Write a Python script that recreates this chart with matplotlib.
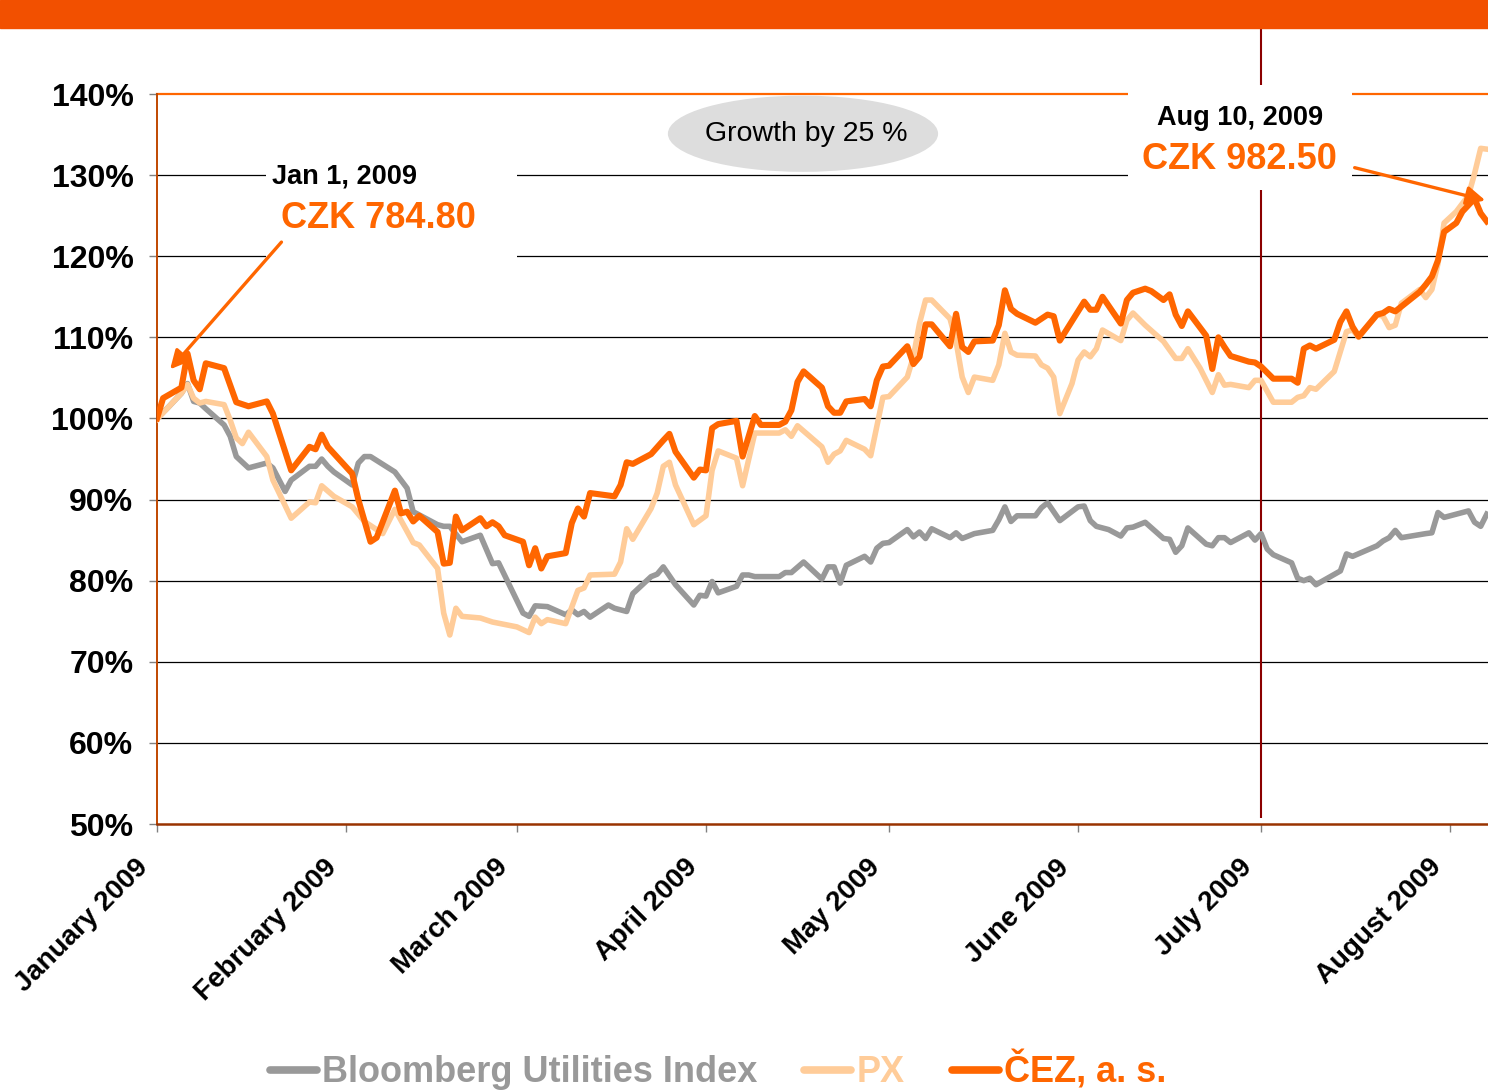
import matplotlib.pyplot as plt
import matplotlib.transforms as mtransforms
from matplotlib.patches import Ellipse, Rectangle
from matplotlib.lines import Line2D

plt.rcParams['font.family'] = ['Liberation Sans', 'DejaVu Sans']

# days counted from Jan 1, 2009; values in % of the Jan 1 level
bloomberg_days = [0, 2, 4, 5, 6, 7, 8, 11, 12, 13, 15, 18, 19, 21, 22, 25, 26, 27, 28, 29,
                  32, 33, 34, 35, 39, 41, 42, 46, 47, 48, 50, 53, 55, 56, 60, 61, 62, 64, 67, 68,
                  69, 70, 71, 74, 75, 77, 78, 81, 82, 83, 85, 88, 89, 90, 91, 92, 95, 96, 97, 98,
                  102, 103, 104, 106, 109, 110, 111, 112, 113, 116, 117, 118, 119, 120, 123, 124,
                  125, 126, 127, 130, 131, 132, 134, 137, 138, 139, 140, 141, 144, 145, 146, 148,
                  151, 152, 153, 154, 156, 158, 159, 160, 162, 165, 166, 167, 168, 169, 172, 173,
                  174, 175, 176, 179, 180, 181, 182, 183, 186, 187, 188, 189, 190, 194, 195, 196,
                  200, 201, 202, 203, 204, 208, 209, 210, 211, 215, 216, 217, 218]
bloomberg_vals = [100.0, 101.5, 103.1, 104.3, 102.1, 101.9, 101.2, 99.2, 97.8, 95.3, 93.9, 94.5,
                  93.9, 91.0, 92.4, 94.1, 94.1, 95.0, 94.1, 93.4, 91.8, 94.5, 95.3, 95.3, 93.4,
                  91.4, 88.5, 86.9, 86.7, 86.7, 84.8, 85.6, 82.1, 82.2, 76.0, 75.6, 76.9, 76.8,
                  75.8, 76.4, 75.8, 76.2, 75.5, 77.0, 76.6, 76.2, 78.4, 80.5, 80.8, 81.7, 79.5,
                  77.0, 78.2, 78.1, 79.9, 78.5, 79.3, 80.7, 80.7, 80.5, 80.5, 81.0, 81.0, 82.3,
                  80.2, 81.7, 81.7, 79.7, 81.9, 83.0, 82.3, 84.0, 84.6, 84.7, 86.3, 85.4, 86.0,
                  85.2, 86.4, 85.3, 85.9, 85.2, 85.8, 86.2, 87.5, 89.1, 87.3, 88.0, 88.0, 89.0,
                  89.6, 87.4, 89.1, 89.2, 87.4, 86.7, 86.3, 85.5, 86.5, 86.6, 87.2, 85.2, 85.1,
                  83.5, 84.3, 86.5, 84.5, 84.3, 85.3, 85.3, 84.7, 85.9, 85.0, 85.8, 83.9, 83.2,
                  82.2, 80.3, 80.0, 80.3, 79.5, 81.2, 83.3, 83.0, 84.3, 84.9, 85.3, 86.2, 85.3,
                  85.8, 85.9, 88.4, 87.8, 88.6, 87.2, 86.7, 88.2]

px_days = [0, 2, 4, 5, 6, 7, 8, 11, 12, 13, 14, 15, 18, 19, 22, 25, 26, 27, 29, 32, 34, 37, 39,
           42, 43, 46, 47, 48, 49, 50, 53, 55, 59, 61, 62, 63, 64, 67, 69, 70, 71, 75, 76, 77,
           78, 81, 82, 83, 84, 85, 88, 90, 91, 92, 95, 96, 98, 102, 103, 104, 105, 109, 110,
           111, 112, 113, 116, 117, 118, 119, 120, 123, 124, 125, 126, 127, 130, 131, 132, 133,
           134, 137, 138, 139, 140, 141, 144, 145, 146, 147, 148, 150, 151, 152, 153, 154, 155,
           158, 159, 160, 162, 165, 167, 168, 169, 171, 173, 174, 175, 176, 179, 180, 181, 183,
           186, 187, 188, 189, 190, 193, 195, 196, 197, 200, 201, 202, 203, 204, 207, 208, 209,
           210, 211, 213, 215, 216, 217, 218]
px_vals = [99.9, 101.5, 103.1, 104.2, 102.5, 101.9, 102.1, 101.7, 99.8, 97.6, 96.9, 98.3, 95.3,
           92.4, 87.7, 89.7, 89.6, 91.7, 90.4, 89.1, 87.3, 85.8, 88.8, 84.7, 84.4, 81.5, 76.0,
           73.3, 76.6, 75.6, 75.4, 74.9, 74.3, 73.6, 75.5, 74.7, 75.2, 74.7, 78.8, 79.1, 80.7,
           80.8, 82.3, 86.4, 85.1, 88.9, 90.8, 94.1, 94.6, 91.8, 86.9, 88.0, 93.6, 96.0, 95.1,
           91.7, 98.2, 98.2, 98.6, 97.8, 99.1, 96.5, 94.6, 95.6, 96.0, 97.3, 96.2, 95.4, 99.0,
           102.6, 102.7, 105.1, 107.6, 111.7, 114.6, 114.6, 112.3, 109.5, 105.1, 103.2, 105.1,
           104.7, 106.6, 110.5, 108.2, 107.8, 107.7, 106.6, 106.2, 105.1, 100.6, 104.3, 107.2,
           108.2, 107.6, 108.6, 110.9, 109.6, 112.1, 113.0, 111.5, 109.5, 107.4, 107.4, 108.6,
           106.2, 103.2, 105.4, 104.1, 104.2, 103.8, 104.7, 104.7, 102.0, 102.0, 102.6, 102.8,
           103.8, 103.6, 105.8, 110.7, 110.9, 110.0, 112.8, 112.6, 111.2, 111.5, 114.2, 115.9,
           114.9, 115.9, 119.1, 124.1, 125.5, 127.5, 130.2, 133.3, 133.2]

cez_days = [0, 1, 4, 5, 6, 7, 8, 11, 13, 15, 18, 19, 22, 25, 26, 27, 28, 32, 33, 35, 36, 39, 40,
            41, 42, 43, 46, 47, 48, 49, 50, 53, 54, 55, 56, 57, 60, 61, 62, 63, 64, 67, 68, 69,
            70, 71, 75, 76, 77, 78, 81, 83, 84, 85, 88, 89, 90, 91, 92, 95, 96, 98, 99, 102,
            103, 104, 105, 106, 109, 110, 111, 112, 113, 116, 117, 118, 119, 120, 123, 124, 125,
            126, 127, 130, 131, 132, 133, 134, 137, 138, 139, 140, 141, 144, 146, 147, 148, 152,
            153, 154, 155, 158, 159, 160, 162, 163, 165, 166, 167, 168, 169, 172, 173, 174, 175,
            176, 179, 180, 181, 183, 186, 187, 188, 189, 190, 193, 194, 195, 196, 197, 200, 201,
            202, 203, 207, 208, 209, 210, 211, 213, 214, 216, 217, 218]
cez_vals = [100.0, 102.5, 103.8, 108.0, 104.7, 103.6, 106.8, 106.2, 102.0, 101.5, 102.1, 100.6,
            93.6, 96.5, 96.2, 98.0, 96.5, 93.2, 90.0, 84.8, 85.3, 91.1, 88.3, 88.5, 87.3, 88.0,
            86.0, 82.1, 82.2, 87.9, 86.2, 87.7, 86.7, 87.2, 86.7, 85.6, 84.8, 81.9, 84.0, 81.5,
            83.0, 83.4, 87.1, 88.9, 87.9, 90.8, 90.4, 91.8, 94.6, 94.4, 95.6, 97.3, 98.1, 95.9,
            92.7, 93.7, 93.6, 98.8, 99.3, 99.7, 95.3, 100.3, 99.2, 99.2, 99.6, 101.0, 104.5,
            105.8, 103.8, 101.5, 100.7, 100.7, 102.1, 102.4, 101.5, 104.7, 106.4, 106.5, 108.9,
            106.7, 107.6, 111.6, 111.6, 108.9, 112.9, 108.8, 108.2, 109.5, 109.6, 111.5, 115.8,
            113.5, 112.9, 111.8, 112.8, 112.6, 109.6, 114.4, 113.4, 113.4, 115.0, 111.7, 114.6,
            115.5, 116.0, 115.7, 114.6, 115.3, 112.8, 111.4, 113.2, 110.2, 106.1, 110.0, 108.8,
            107.7, 107.0, 106.9, 106.4, 104.9, 104.9, 104.4, 108.6, 109.0, 108.6, 109.7, 111.9,
            113.2, 111.3, 110.1, 112.8, 113.0, 113.5, 113.2, 115.6, 116.5, 117.5, 119.5, 123.0,
            124.1, 125.5, 127.1, 125.3, 124.3]

month_days = [0, 31, 59, 90, 120, 151, 181, 212]
month_labels = ['January 2009', 'February 2009', 'March 2009', 'April 2009',
                'May 2009', 'June 2009', 'July 2009', 'August 2009']

orange = '#FF6600'
peach = '#FFCC99'
grey = '#999999'

fig = plt.figure(figsize=(14.88, 10.92), dpi=100)
# orange band at the top of the slide
fig.patches.append(Rectangle((0, 1 - 28 / 1092), 1, 28 / 1092, transform=fig.transFigure,
                             color='#F25000', zorder=0))

ax = fig.add_axes([157 / 1488, 268 / 1092, 1 - 157 / 1488, 730 / 1092])
ax.set_xlim(0, 218.2)
ax.set_ylim(50, 140)

for v in range(60, 140, 10):
    ax.axhline(v, color='black', lw=0.9, zorder=1)
ax.axhline(140, color=orange, lw=1.6, zorder=1, clip_on=False)

ax.plot(bloomberg_days, bloomberg_vals, color=grey, lw=4.0, zorder=3)
ax.plot(px_days, px_vals, color=peach, lw=4.0, zorder=3)
ax.plot(cez_days, cez_vals, color=orange, lw=4.4, zorder=4)

ax.vlines(181, 50.7, 150.6, color='#8B0000', lw=1.5, zorder=2, clip_on=False)

# white label boxes hide grid lines behind them
ax.add_patch(Rectangle((17.9, 119.5), 41.1, 13.6, facecolor='white', edgecolor='none',
                       zorder=5, clip_on=False))
ax.add_patch(Rectangle((159.2, 128.2), 36.7, 12.9, facecolor='white', edgecolor='none',
                       zorder=5, clip_on=False))

ax.text(18.9, 129.8, 'Jan 1, 2009', fontsize=19.5, fontweight='bold', ha='left', va='center', zorder=6)
ax.text(20.3, 124.7, 'CZK 784.80', fontsize=26, fontweight='bold', color=orange,
        ha='left', va='center', zorder=6)
ax.text(177.5, 137.0, 'Aug 10, 2009', fontsize=19.5, fontweight='bold', ha='center', va='center', zorder=6)
ax.text(177.5, 131.9, 'CZK 982.50', fontsize=26, fontweight='bold', color=orange,
        ha='center', va='center', zorder=6)

ax.annotate('', xy=(1.85, 105.8), xytext=(20.7, 122.0),
            arrowprops=dict(arrowstyle='-|>', color=orange, lw=2.4, mutation_scale=28), zorder=7)
ax.annotate('', xy=(218.2, 126.8), xytext=(195.9, 131.0), annotation_clip=False,
            arrowprops=dict(arrowstyle='-|>', color=orange, lw=2.4, mutation_scale=28), zorder=7)

ax.add_patch(Ellipse((105.9, 135.1), 44.3, 9.4, facecolor='#DDDDDD', edgecolor='none', zorder=5))
ax.text(106.4, 135.1, 'Growth by 25 %', fontsize=20.5, ha='center', va='center', zorder=6)

ax.spines['top'].set_visible(False)
ax.spines['right'].set_visible(False)
ax.spines['left'].set_color('#C04800')
ax.spines['left'].set_linewidth(1.4)
ax.spines['bottom'].set_color('#993300')
ax.spines['bottom'].set_linewidth(1.8)

ax.set_yticks(range(50, 141, 10))
ax.set_yticklabels([f'{v}%' for v in range(50, 141, 10)], fontsize=23, fontweight='bold')
ax.set_xticks(month_days)
ax.set_xticklabels(month_labels, fontsize=20, fontweight='bold', rotation=45,
                   ha='right', va='baseline', rotation_mode='anchor')
ax.tick_params(axis='y', length=6, width=1, color='#808080', pad=11)
ax.tick_params(axis='x', length=6, width=1, color='#808080', pad=26)
shift = mtransforms.ScaledTranslation(-8 / 100, 0, fig.dpi_scale_trans)
for lbl in ax.get_xticklabels():
    lbl.set_transform(lbl.get_transform() + shift)

handles = [Line2D([], [], color=grey, lw=5.5, solid_capstyle='round'),
           Line2D([], [], color=peach, lw=5.5, solid_capstyle='round'),
           Line2D([], [], color=orange, lw=5.5, solid_capstyle='round')]
leg = fig.legend(handles, ['Bloomberg Utilities Index', 'PX', 'ČEZ, a. s.'], loc='center',
                 bbox_to_anchor=(718 / 1488, 21 / 1092), ncol=3, frameon=False,
                 prop={'size': 26, 'weight': 'bold'}, handlelength=1.3, handletextpad=0.15,
                 columnspacing=1.3)
for t, c in zip(leg.get_texts(), [grey, peach, orange]):
    t.set_color(c)

fig.savefig('out.png', dpi=100)
